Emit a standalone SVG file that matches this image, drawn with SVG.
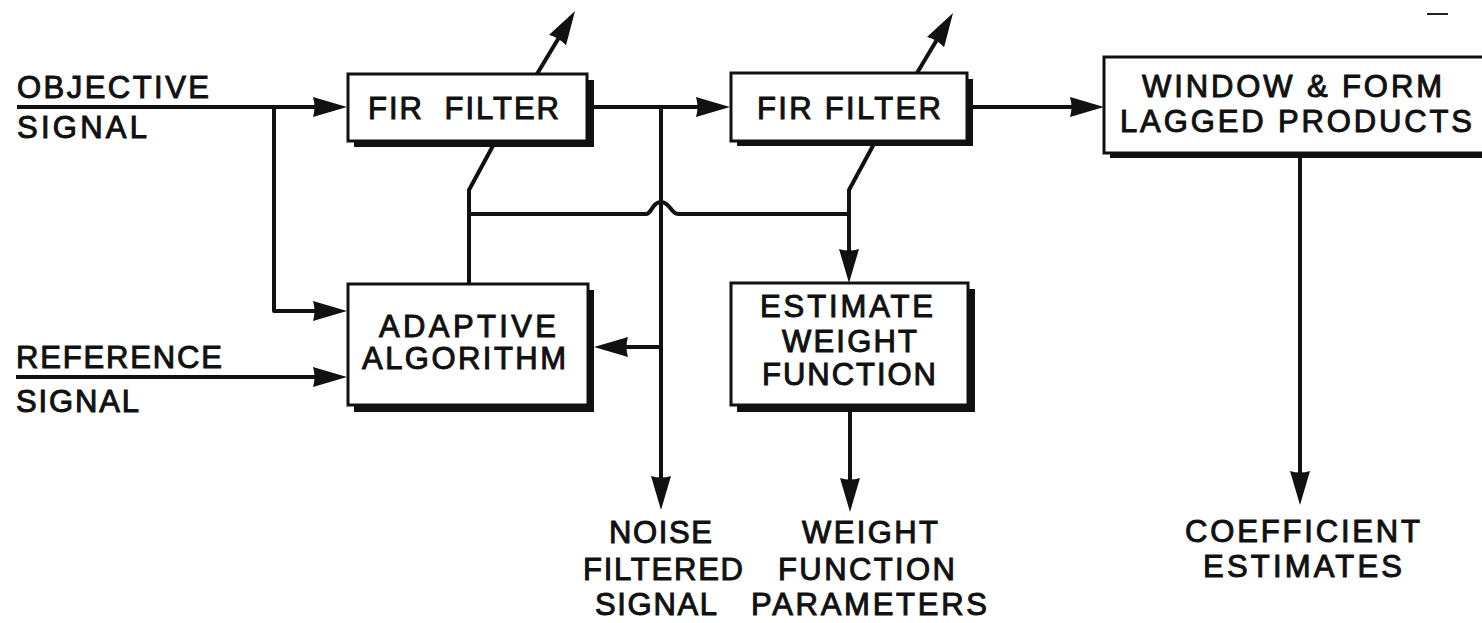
<svg xmlns="http://www.w3.org/2000/svg" width="1482" height="623" viewBox="0 0 1482 623">
  <style>
    .lbl { font-family: "Liberation Sans", Arial, Helvetica, sans-serif; font-size: 31px; fill: #111; stroke: #111; stroke-width: 1px; }
    .box { fill: #fff; stroke: #111; stroke-width: 3; }
    .shadow { fill: #111; }
    .wire { fill: none; stroke: #111; stroke-width: 4; stroke-linejoin: round; }
    .arr { marker-end: url(#arrow); }
  </style>
  <defs>
    <marker id="arrow" viewBox="0 0 34 22" refX="26" refY="11" markerWidth="34" markerHeight="22" markerUnits="userSpaceOnUse" orient="auto">
      <path d="M0,1 L34,11 L0,21 Q3,11 0,1 Z" fill="#111"/>
    </marker>
  </defs>

  <rect width="1482" height="623" fill="#fff"/>

  <!-- signal paths -->
  <g id="connectors">
    <!-- objective signal into first filter, with branch to adaptive algorithm -->
    <path class="wire arr" d="M17,107 H339"/>
    <path class="wire arr" d="M274,107 V311 H339"/>
    <!-- reference signal -->
    <path class="wire arr" d="M16,377 H339"/>
    <!-- first filter to second filter -->
    <path class="wire arr" d="M594,107 H722"/>
    <!-- noise filtered signal tap -->
    <path class="wire arr" d="M661,107 V502"/>
    <path class="wire arr" d="M661,347 H602"/>
    <!-- second filter to window block -->
    <path class="wire arr" d="M973,107 H1096"/>
    <!-- coefficient estimates out -->
    <path class="wire arr" d="M1300,158 V497"/>
    <!-- weight function parameters out -->
    <path class="wire arr" d="M850,412 V504"/>
    <!-- weight update bus with hop over the tap line -->
    <path class="wire" d="M469,284 V190 L495,142"/>
    <path class="wire" d="M469,214 H646 C652,214 652,202 661,202 C670,202 671,214 678,214 H849"/>
    <path class="wire" d="M875,142 L849,190 V214"/>
    <path class="wire arr" d="M849,214 V275"/>
    <!-- coefficient outputs above the filters -->
    <path class="wire arr" d="M537,74 L570.9,17.8"/>
    <path class="wire arr" d="M917,73 L948.9,19.8"/>
    <!-- stray mark -->
    <path d="M1427,14 H1448" stroke="#222" stroke-width="2"/>
  </g>

  <g id="fir1">
    <rect class="shadow" x="354" y="80" width="240" height="67"/>
    <rect class="box" x="348" y="74" width="239" height="67"/>
    <text class="lbl" x="368" y="119" textLength="191" lengthAdjust="spacing" word-spacing="10">FIR FILTER</text>
  </g>

  <g id="fir2">
    <rect class="shadow" x="737" y="79" width="236" height="67"/>
    <rect class="box" x="731" y="73" width="236" height="68"/>
    <text class="lbl" x="757" y="119" textLength="184" lengthAdjust="spacing">FIR FILTER</text>
  </g>

  <g id="window">
    <rect class="shadow" x="1110" y="63" width="400" height="95"/>
    <rect class="box" x="1104" y="57" width="400" height="96"/>
    <text class="lbl" x="1142" y="97" textLength="300" lengthAdjust="spacing">WINDOW &amp; FORM</text>
    <text class="lbl" x="1120" y="132" textLength="352" lengthAdjust="spacing">LAGGED PRODUCTS</text>
  </g>

  <g id="adaptive">
    <rect class="shadow" x="354" y="290" width="240" height="122"/>
    <rect class="box" x="348" y="284" width="240" height="121"/>
    <text class="lbl" x="379" y="337" textLength="177" lengthAdjust="spacing">ADAPTIVE</text>
    <text class="lbl" x="362" y="369" textLength="204" lengthAdjust="spacing">ALGORITHM</text>
  </g>

  <g id="estimate">
    <rect class="shadow" x="737" y="289" width="238" height="123"/>
    <rect class="box" x="731" y="283" width="237" height="122"/>
    <text class="lbl" x="760" y="317" textLength="173" lengthAdjust="spacing">ESTIMATE</text>
    <text class="lbl" x="782" y="352" textLength="135" lengthAdjust="spacing">WEIGHT</text>
    <text class="lbl" x="762" y="385" textLength="174" lengthAdjust="spacing">FUNCTION</text>
  </g>

  <g id="in-objective">
    <text class="lbl" x="17" y="98" textLength="192" lengthAdjust="spacing">OBJECTIVE</text>
    <text class="lbl" x="17" y="138" textLength="130" lengthAdjust="spacing">SIGNAL</text>
  </g>

  <g id="in-reference">
    <text class="lbl" x="16" y="368" textLength="206" lengthAdjust="spacing">REFERENCE</text>
    <text class="lbl" x="16" y="412" textLength="123" lengthAdjust="spacing">SIGNAL</text>
  </g>

  <g id="out-noise-filtered">
    <text class="lbl" x="609" y="543" textLength="103" lengthAdjust="spacing">NOISE</text>
    <text class="lbl" x="583" y="580" textLength="160" lengthAdjust="spacing">FILTERED</text>
    <text class="lbl" x="595" y="615" textLength="122" lengthAdjust="spacing">SIGNAL</text>
  </g>

  <g id="out-weight-params">
    <text class="lbl" x="802" y="543" textLength="136" lengthAdjust="spacing">WEIGHT</text>
    <text class="lbl" x="778" y="580" textLength="177" lengthAdjust="spacing">FUNCTION</text>
    <text class="lbl" x="751" y="615" textLength="236" lengthAdjust="spacing">PARAMETERS</text>
  </g>

  <g id="out-coefficients">
    <text class="lbl" x="1185" y="542" textLength="235" lengthAdjust="spacing">COEFFICIENT</text>
    <text class="lbl" x="1203" y="577" textLength="199" lengthAdjust="spacing">ESTIMATES</text>
  </g>
</svg>
